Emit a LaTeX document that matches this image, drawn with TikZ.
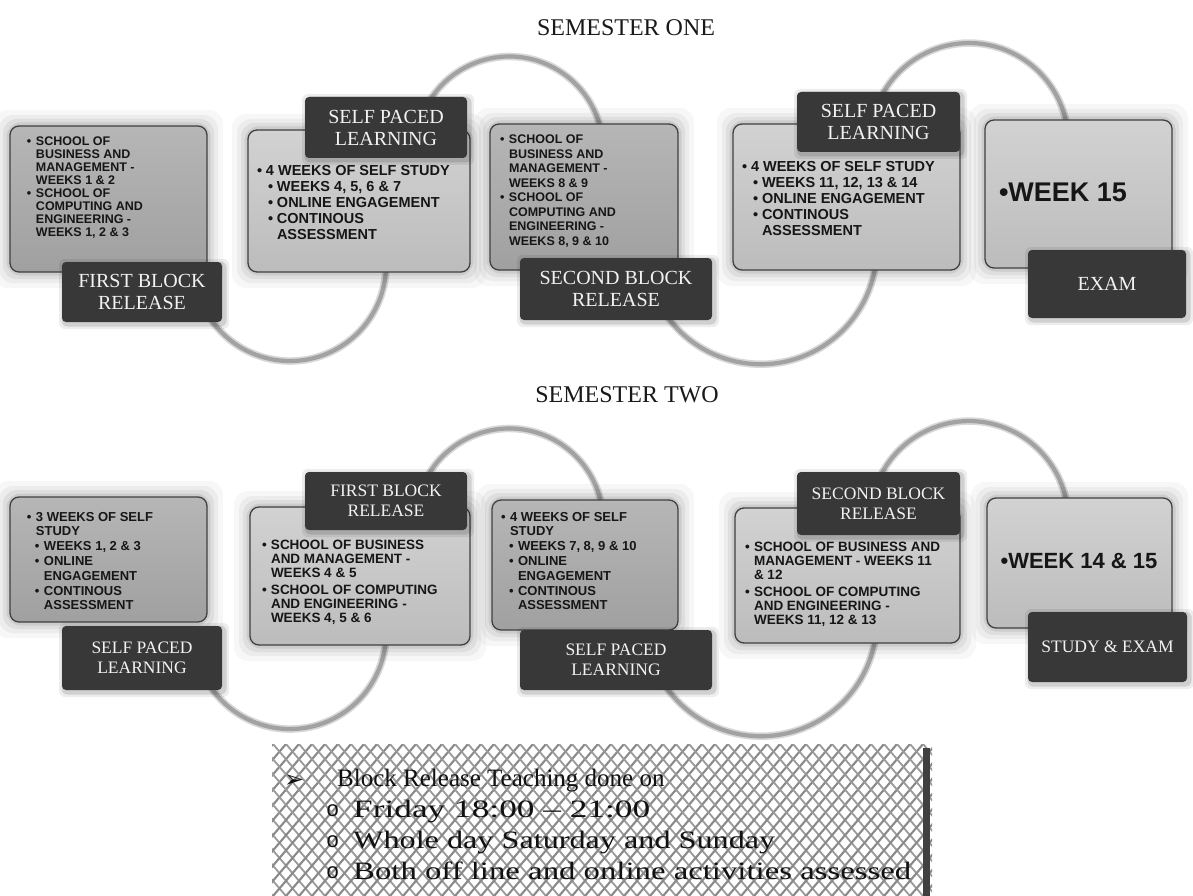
\documentclass[tikz,border=0pt]{standalone}
\usepackage{fontspec}
\setmainfont{Liberation Serif}
\newfontfamily\boxfont{Liberation Sans}
\newfontfamily\symfont{DejaVu Sans}
\newfontfamily\bulfont{Liberation Mono}
\usepackage{graphicx}
\usetikzlibrary{calc,backgrounds}
\definecolor{boxedge}{HTML}{404040}
\definecolor{lta}{HTML}{D2D2D2}
\definecolor{ltb}{HTML}{BCBCBC}
\definecolor{dka}{HTML}{B6B6B6}
\definecolor{dkb}{HTML}{A0A0A0}
\definecolor{labfill}{HTML}{383838}
\definecolor{labtext}{HTML}{F2F2F2}
\definecolor{boxtext}{HTML}{161616}
\definecolor{arcgray}{HTML}{A2A2A2}
\definecolor{arcsoft}{HTML}{D8D8D8}
\definecolor{hatchA}{HTML}{8A8A8A}
\definecolor{hatchB}{HTML}{9A9A9A}
\definecolor{notetext}{HTML}{111111}
\newcommand\bxb{\makebox[9pt][l]{•}}
\newcommand\bxi{\hspace*{9pt}}
\tikzset{
 boxlt/.style={draw=boxedge, line width=1.3pt, rounded corners=9pt, top color=lta, bottom color=ltb, inner sep=0pt, outer sep=0pt},
 boxdk/.style={draw=boxedge, line width=1.3pt, rounded corners=9pt, top color=dka, bottom color=dkb, inner sep=0pt, outer sep=0pt},
 labone/.style={fill=labfill, rounded corners=4pt, text=labtext, align=center, inner sep=0pt, outer sep=0pt, font=\fontsize{20}{22}\selectfont},
 labtwo/.style={labone, font=\fontsize{17.5}{20}\selectfont},
 arcline/.style={draw=arcgray, line width=4.2pt, preaction={draw=arcsoft, line width=7.5pt}},
 btext/.style={inner sep=0pt, outer sep=0pt, align=left, text=boxtext, anchor=north west},
 bsmall/.style={btext, font=\boxfont\bfseries\fontsize{12.5}{13}\selectfont},
 bmid/.style={btext, font=\boxfont\bfseries\fontsize{12.5}{14.5}\selectfont},
 bwide/.style={btext, font=\boxfont\bfseries\fontsize{14.5}{16}\selectfont},
 brow/.style={btext, font=\boxfont\bfseries\fontsize{13}{14.8}\selectfont},
 bsch/.style={btext, font=\boxfont\bfseries\fontsize{13.5}{14}\selectfont},
 bbig/.style={inner sep=0pt, text=boxtext, font=\boxfont\bfseries\fontsize{27}{30}\selectfont},
 bbigtwo/.style={inner sep=0pt, text=boxtext, font=\boxfont\bfseries\fontsize{22}{26}\selectfont},
 titletext/.style={inner sep=0pt, text=black!90, font=\fontsize{24}{26}\selectfont},
 note/.style={anchor=base west, inner sep=0pt, text=notetext, font=\fontsize{25}{28}\selectfont},
 notebul/.style={note, font=\bulfont\fontsize{22}{24}\selectfont},
}
\newcommand\gbox[6]{%
  \foreach \gw/\op in {16/0.03,11/0.045,7/0.06,3.5/0.08}{%
    \fill[black,opacity=\op,rounded corners=14pt] ({#2-\gw},{#3-\gw}) rectangle ({#4+\gw},{#5+\gw});}%
  \node[#6, minimum width={#4-#2}, minimum height={#5-#3}] (#1) at ({(#2+#4)/2},{(#3+#5)/2}) {};%
}
\newcommand\glab[7]{%
  \foreach \gw/\op in {5/0.07,2.5/0.12}{%
    \fill[black,opacity=\op,rounded corners=6pt] ({#2-\gw+2},{#3-\gw+2}) rectangle ({#4+\gw+2},{#5+\gw+2});}%
  \node[#6, minimum width={#4-#2}, minimum height={#5-#3}] (#1) at ({(#2+#4)/2},{(#3+#5)/2}) {#7};%
}
\begin{document}
\begin{tikzpicture}[x=1pt,y=-1pt]
\useasboundingbox (0,0) rectangle (1193,896);

% titles
\node[titletext] (sem1) at (626,28) {SEMESTER ONE};
\node[titletext] (sem2) at (627,395) {SEMESTER TWO};

% ---------- row 1 ----------
\gbox{boxA}{10}{126}{207}{272}{boxdk}
\gbox{boxB}{248}{130}{470}{272}{boxlt}
\gbox{boxC}{490}{124}{678}{270}{boxdk}
\gbox{boxD}{733}{124}{960}{270}{boxlt}
\gbox{boxE}{985}{120}{1172}{268}{boxlt}

\node[bsmall] (tA) at (27,137) {\bxb SCHOOL OF\\ \bxi BUSINESS AND\\ \bxi MANAGEMENT -\\ \bxi WEEKS 1 \& 2\\ \bxb SCHOOL OF\\ \bxi COMPUTING AND\\ \bxi ENGINEERING -\\ \bxi WEEKS 1, 2 \& 3};
\node[bwide] (tB) at (257,165) {\bxb 4 WEEKS OF SELF STUDY\\ \hspace*{11pt}\bxb WEEKS 4, 5, 6 \& 7\\ \hspace*{11pt}\bxb ONLINE ENGAGEMENT\\ \hspace*{11pt}\bxb CONTINOUS\\ \hspace*{20pt}ASSESSMENT};
\node[bmid] (tC) at (500,135) {\bxb SCHOOL OF\\ \bxi BUSINESS AND\\ \bxi MANAGEMENT -\\ \bxi WEEKS 8 \& 9\\ \bxb SCHOOL OF\\ \bxi COMPUTING AND\\ \bxi ENGINEERING -\\ \bxi WEEKS 8, 9 \& 10};
\node[bwide] (tD) at (742,161) {\bxb 4 WEEKS OF SELF STUDY\\ \hspace*{11pt}\bxb WEEKS 11, 12, 13 \& 14\\ \hspace*{11pt}\bxb ONLINE ENGAGEMENT\\ \hspace*{11pt}\bxb CONTINOUS\\ \hspace*{20pt}ASSESSMENT};
\node[bbig] (tE) at (1063,192) {•WEEK 15};

\glab{labA}{62}{262}{222}{322}{labone}{FIRST BLOCK\\RELEASE}
\glab{labB}{305}{97}{467}{158}{labone}{SELF PACED\\LEARNING}
\glab{labC}{520}{258}{712}{320}{labone}{SECOND BLOCK\\RELEASE}
\glab{labD}{797}{92}{960}{152}{labone}{SELF PACED\\LEARNING}
\glab{labE}{1028}{250}{1186}{318}{labone}{EXAM}

% ---------- row 2 ----------
\gbox{boxA2}{10}{497}{207}{622}{boxdk}
\gbox{boxB2}{250}{507}{470}{645}{boxlt}
\gbox{boxC2}{492}{500}{678}{630}{boxdk}
\gbox{boxD2}{735}{508}{960}{643}{boxlt}
\gbox{boxE2}{987}{498}{1172}{628}{boxlt}

\node[brow] (tA2) at (27,512) {\bxb 3 WEEKS OF SELF\\ \bxi STUDY\\ \hspace*{8pt}\bxb WEEKS 1, 2 \& 3\\ \hspace*{8pt}\bxb ONLINE\\ \hspace*{17pt}ENGAGEMENT\\ \hspace*{8pt}\bxb CONTINOUS\\ \hspace*{17pt}ASSESSMENT};
\node[bsch] (tB2) at (262,540) {\bxb SCHOOL OF BUSINESS\\ \bxi AND MANAGEMENT -\\ \bxi WEEKS 4 \& 5\\[3pt] \bxb SCHOOL OF COMPUTING\\ \bxi AND ENGINEERING -\\ \bxi WEEKS 4, 5 \& 6};
\node[brow] (tC2) at (501,512) {\bxb 4 WEEKS OF SELF\\ \bxi STUDY\\ \hspace*{8pt}\bxb WEEKS 7, 8, 9 \& 10\\ \hspace*{8pt}\bxb ONLINE\\ \hspace*{17pt}ENGAGEMENT\\ \hspace*{8pt}\bxb CONTINOUS\\ \hspace*{17pt}ASSESSMENT};
\node[bsch] (tD2) at (745,542) {\bxb SCHOOL OF BUSINESS AND\\ \bxi MANAGEMENT - WEEKS 11\\ \bxi \& 12\\[3pt] \bxb SCHOOL OF COMPUTING\\ \bxi AND ENGINEERING -\\ \bxi WEEKS 11, 12 \& 13};
\node[bbigtwo] (tE2) at (1079,561) {•WEEK 14 \& 15};

\glab{labA2}{62}{626}{222}{690}{labtwo}{SELF PACED\\LEARNING}
\glab{labB2}{305}{472}{467}{530}{labtwo}{FIRST BLOCK\\RELEASE}
\glab{labC2}{520}{630}{712}{690}{labtwo}{SELF PACED\\LEARNING}
\glab{labD2}{797}{472}{960}{535}{labtwo}{SECOND BLOCK\\RELEASE}
\glab{labE2}{1028}{612}{1187}{682}{labtwo}{STUDY \& EXAM}

% ---------- connecting arcs (behind everything) ----------
\begin{pgfonlayer}{background}
\fill[white] (0,0) rectangle (1193,896);
\draw[arcline] ($(labA.south east)+(-10.6,-1.9)$) arc[start angle=145, end angle=-10, radius=96];
\draw[arcline] ($(labB.north east)+(-42.8,13.7)$) arc[start angle=205, end angle=350, radius=93.9];
\draw[arcline] ($(labC.south east)+(-46.1,-5.2)$) arc[start angle=145, end angle=0, radius=115.9];
\draw[arcline] ($(labD.north east)+(-80.7,8.3)$) arc[start angle=205, end angle=355, radius=99.1];
\draw[arcline] ($(labA2.south east)+(-10.6,-1.9)$) arc[start angle=145, end angle=-10, radius=96];
\draw[arcline] ($(labB2.north east)+(-42.8,10.7)$) arc[start angle=205, end angle=350, radius=93.9];
\draw[arcline] ($(labC2.south east)+(-46.1,-3.2)$) arc[start angle=145, end angle=0, radius=115.9];
\draw[arcline] ($(labD2.north east)+(-80.7,6.3)$) arc[start angle=205, end angle=355, radius=99.1];
\end{pgfonlayer}

% ---------- note box (woven lattice) ----------
\begin{scope}
\clip (272,744) rectangle (932,896);
\foreach \k in {0,...,68} {
  \draw[hatchB, line width=1.8pt] ({130+\k*13},744) -- ({260+\k*13},896);
  \draw[hatchA, line width=2.1pt] ({260+\k*13},744) -- ({130+\k*13},896);
}
\end{scope}
\fill[black!75] (923,748) rectangle (930,896);

\node[note, font=\symfont\bfseries\fontsize{24}{26}\selectfont] (n0) at (284,787) {➢};
\node[note] (n1) at (337,786) {Block Release Teaching done on};
\node[notebul] (o1) at (326,816) {o};
\node[note] (n2) at (353,817) {\resizebox{297pt}{\height}{Friday 18:00 – 21:00}};
\node[notebul] (o2) at (326,847) {o};
\node[note] (n3) at (353,848) {\resizebox{422pt}{\height}{Whole day Saturday and Sunday}};
\node[notebul] (o3) at (326,878) {o};
\node[note] (n4) at (353,879) {\resizebox{558pt}{\height}{Both off line and online activities assessed}};
\end{tikzpicture}
\end{document}
